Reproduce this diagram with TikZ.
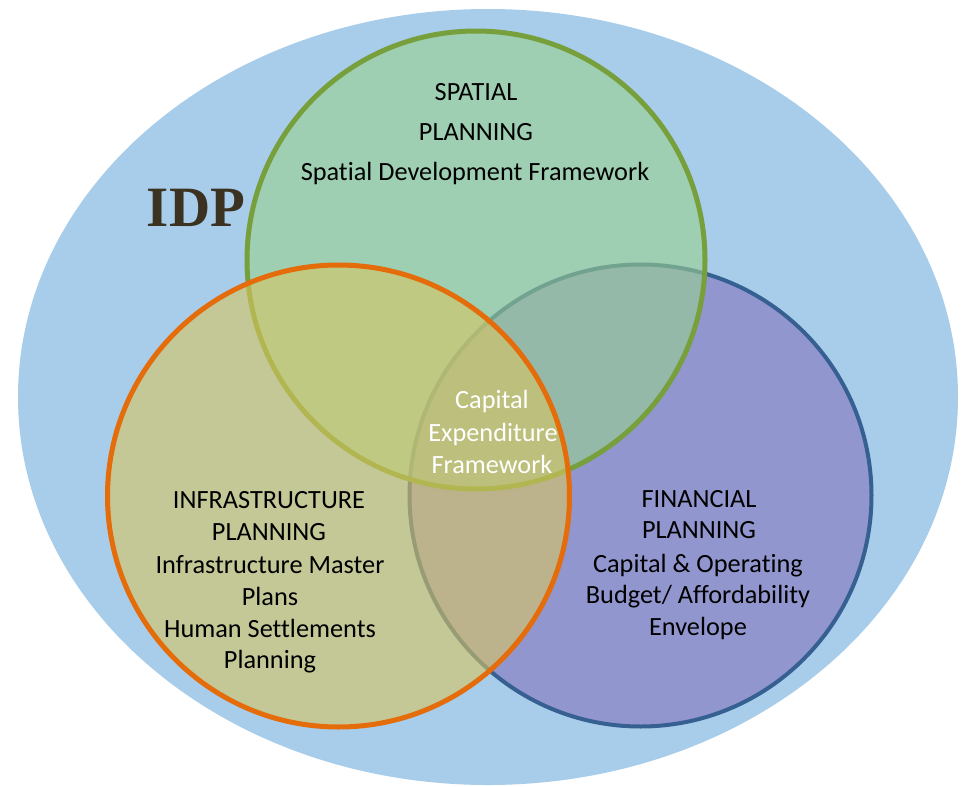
\documentclass[tikz,border=0pt]{standalone}
\usepackage{fontspec}
\setmainfont[Ligatures={NoCommon}]{Carlito}
\newfontfamily\idpfont{Liberation Serif}
\definecolor{bgblue}{HTML}{A8CDEA}
\definecolor{spfill}{HTML}{98D18F}
\definecolor{spline}{HTML}{77A03C}
\definecolor{infill}{HTML}{D8C560}
\definecolor{inline}{HTML}{E46C0A}
\definecolor{fifill}{HTML}{8472BC}
\definecolor{filine}{HTML}{376092}
\definecolor{idpcol}{HTML}{3B3222}
\tikzset{
  txt/.style={anchor=base, inner sep=0pt, font=\fontsize{26.3}{31}\selectfont, text=black},
  wtxt/.style={txt, text=white},
}
\begin{document}
\begin{tikzpicture}[x=1pt,y=-1pt]
\useasboundingbox (0,0) rectangle (967,787);
\fill[white] (0,0) rectangle (967,787);
\fill[bgblue] (488,397) ellipse [x radius=470, y radius=388];
% financial
\path[fill=fifill, fill opacity=0.6, draw=filine, line width=4pt] (640.5,495.5) circle [radius=231];
% spatial
\path[fill=spfill, fill opacity=0.6, draw=spline, line width=5pt] (476,260) circle [radius=229];
% infrastructure
\path[fill=infill, fill opacity=0.6, draw=inline, line width=5pt] (338.5,496) circle [radius=231];
% IDP
\node[anchor=base, inner sep=0pt, font=\idpfont\bfseries\fontsize{57}{64}\selectfont, text=idpcol] (idp) at (196,226) {IDP};
% spatial text
\node[txt] (sp1) at (476,100) {SPATIAL};
\node[txt] (sp2) at (476,140) {PLANNING};
\node[txt] (sp3) at (475,180) {Spatial Development Framework};
% centre
\node[wtxt] (c1) at (492,408) {Capital};
\node[wtxt] (c2) at (493,441) {Expenditure};
\node[wtxt] (c3) at (492,473) {Framework};
% infrastructure text
\node[txt] (in1) at (269,508) {INFRASTRUCTURE};
\node[txt] (in2) at (269,540) {PLANNING};
\node[txt] (in3) at (270,573) {Infrastructure Master};
\node[txt] (in4) at (270,605) {Plans};
\node[txt] (in5) at (270,637) {Human Settlements};
\node[txt] (in6) at (270,668) {Planning};
% financial text
\node[txt] (fi1) at (699,507) {FINANCIAL};
\node[txt] (fi2) at (699,538) {PLANNING};
\node[txt] (fi3) at (698,572) {Capital \& Operating};
\node[txt] (fi4) at (698,603) {Budget/ Affordability};
\node[txt] (fi5) at (698,635) {Envelope};
\end{tikzpicture}
\end{document}
